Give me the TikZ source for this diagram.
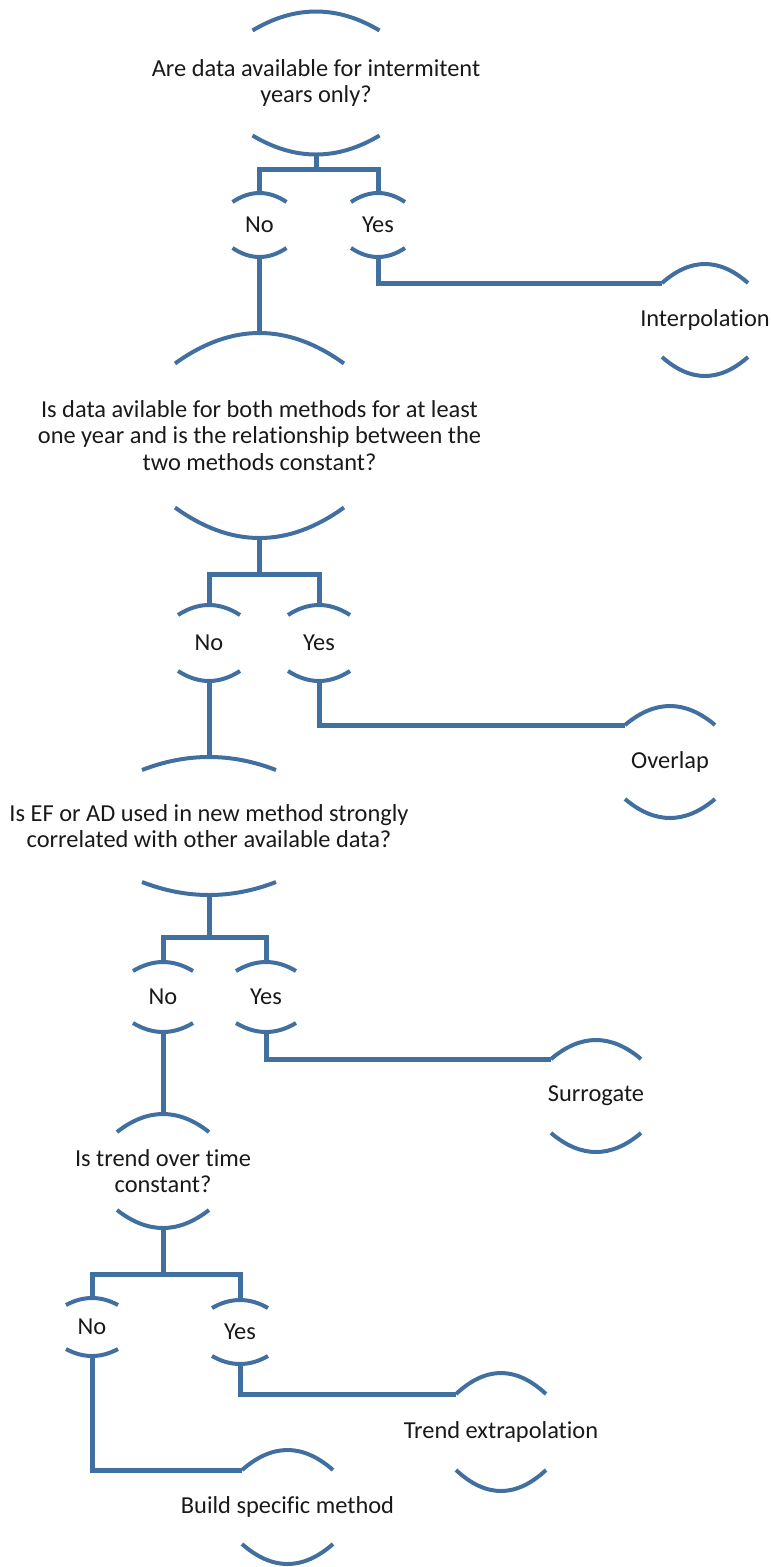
\documentclass[tikz,border=0pt]{standalone}
\usepackage{fontspec}
\setmainfont{Carlito}[Ligatures=NoCommon]
\definecolor{lineblue}{RGB}{65,112,160}
\definecolor{txtcol}{RGB}{25,25,25}
\tikzset{
  txt/.style={font=\fontsize{24.4}{26.5}\selectfont, align=center, inner sep=0pt, text=txtcol},
  arcline/.style={draw=lineblue, line width=4pt, line cap=butt},
  conn/.style={draw=lineblue, line width=5pt},
}
% #1 name, #2 x, #3 y, #4 half width, #5 end offset, #6 sagitta, #7 text
\newcommand{\dnode}[7]{%
  \node[txt] (#1) at (#2,#3) {#7};
  \coordinate (#1-tl) at ({#2-#4},{#3-#5});
  \coordinate (#1-tr) at ({#2+#4},{#3-#5});
  \coordinate (#1-t)  at ({#2},{#3-#5-#6});
  \coordinate (#1-bl) at ({#2-#4},{#3+#5});
  \coordinate (#1-br) at ({#2+#4},{#3+#5});
  \coordinate (#1-b)  at ({#2},{#3+#5+#6});
  \draw[arcline] (#1-tl) .. controls ({#2-#4/3},{#3-#5-4*#6/3}) and ({#2+#4/3},{#3-#5-4*#6/3}) .. (#1-tr);
  \draw[arcline] (#1-bl) .. controls ({#2-#4/3},{#3+#5+4*#6/3}) and ({#2+#4/3},{#3+#5+4*#6/3}) .. (#1-br);
}
\begin{document}
\begin{tikzpicture}[x=1pt,y=-1pt]
\useasboundingbox (0,0) rectangle (771,1567);

% level 1
\dnode{q1}{316}{83}{63.5}{52.5}{19}{Are data available for intermitent\\years only?}
\dnode{no1}{259.5}{225}{27}{23}{9}{No}
\dnode{yes1}{378}{225}{27}{23}{9}{Yes}
\dnode{interp}{705}{320}{43}{37}{19}{Interpolation}

% level 2
\dnode{q2}{259.5}{435.5}{84.5}{72}{30.5}{Is data avilable for both methods for at least\\one year and is the relationship between the\\two methods constant?}
\dnode{no2}{209}{643}{31}{28}{10}{No}
\dnode{yes2}{319}{643}{31}{28}{10}{Yes}
\dnode{overlap}{670}{762}{45}{37}{19}{Overlap}

% level 3
\dnode{q3}{209}{826}{67}{56}{13}{Is EF or AD used in new method strongly\\correlated with other available data?}
\dnode{no3}{163}{997}{30}{26}{9}{No}
\dnode{yes3}{266}{997}{30}{26}{9}{Yes}
\dnode{surrogate}{596}{1096}{45}{37}{19}{Surrogate}

% level 4
\dnode{q4}{163}{1171}{46}{39}{18}{Is trend over time\\constant?}
\dnode{no4}{92}{1327}{26}{22}{7}{No}
\dnode{yes4}{240}{1332}{28}{24}{8}{Yes}
\dnode{trend}{501}{1432}{45}{38}{21}{Trend extrapolation}
\dnode{build}{287.5}{1507}{45.5}{37}{20}{Build specific method}

% connectors
\coordinate (bar1) at (316,169);
\draw[conn] (q1-b) -- (bar1);
\draw[conn] (no1-t) |- (bar1) -| (yes1-t);
\draw[conn] (yes1-b) |- (interp-tl);
\draw[conn] (no1-b) -- (q2-t);

\coordinate (bar2) at (259.5,574);
\draw[conn] (q2-b) -- (bar2);
\draw[conn] (no2-t) |- (bar2) -| (yes2-t);
\draw[conn] (yes2-b) |- (overlap-tl);
\draw[conn] (no2-b) -- (q3-t);

\coordinate (bar3) at (209,937);
\draw[conn] (q3-b) -- (bar3);
\draw[conn] (no3-t) |- (bar3) -| (yes3-t);
\draw[conn] (yes3-b) |- (surrogate-tl);
\draw[conn] (no3-b) -- (q4-t);

\coordinate (bar4) at (163,1274);
\draw[conn] (q4-b) -- (bar4);
\draw[conn] (no4-t) |- (bar4) -| (yes4-t);
\draw[conn] (yes4-b) |- (trend-tl);
\draw[conn] (no4-b) |- (build-tl);
\end{tikzpicture}
\end{document}
